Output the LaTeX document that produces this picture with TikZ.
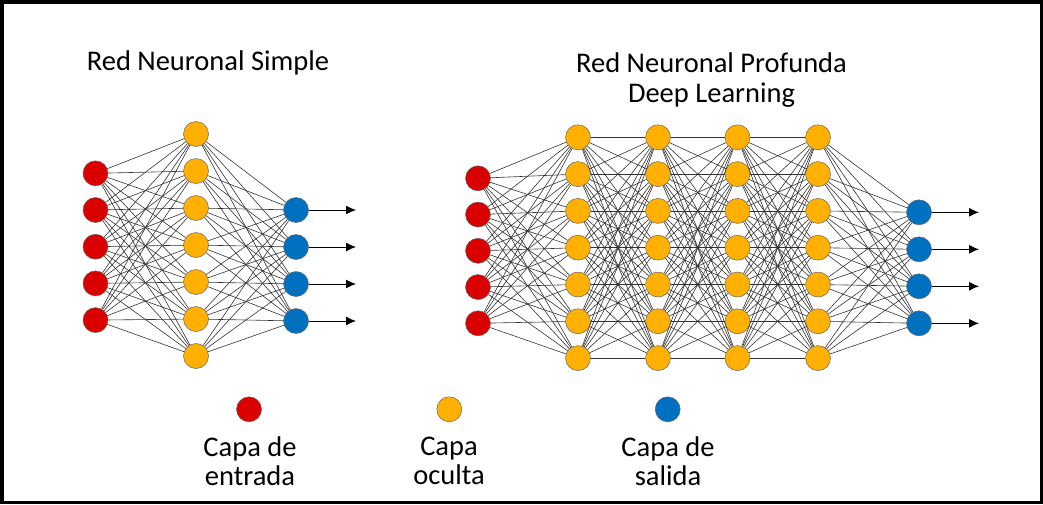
\documentclass[tikz,border=0pt]{standalone}
\usepackage{fontspec}
\setmainfont{Carlito}
\usetikzlibrary{arrows.meta}

\definecolor{capaRoja}{RGB}{218,0,0}
\definecolor{capaNaranja}{RGB}{255,176,0}
\definecolor{capaAzul}{RGB}{0,112,192}

\tikzset{
  neurona/.style={circle, draw=black!60, line width=0.5pt, minimum size=25pt, inner sep=0pt},
  entrada/.style={neurona, fill=capaRoja},
  oculta/.style={neurona, fill=capaNaranja},
  salida/.style={neurona, fill=capaAzul},
  enlace/.style={draw=black!80, line width=0.6pt},
  flecha/.style={-{Latex[length=10pt,width=9pt]}, line width=1pt},
  texto/.style={font=\fontsize{28.5}{29.5}\selectfont, align=center, inner sep=0pt},
}

\begin{document}
\begin{tikzpicture}[x=1pt,y=-1pt]
\useasboundingbox (0,0) rectangle (1043,504);
%marco
\draw [line width=3.5pt] (1.75,1.75) rectangle (1041.25,502.25);

% Red simple
\foreach \i in {0,...,4}
  \node [entrada] (s-in-\i) at (95.5,173.3+36.7*\i) {};
\foreach \j in {0,...,6}
  \node [oculta] (s-hid-\j) at (196,134+37*\j) {};
\foreach \k in {0,...,3} {
  \node [salida] (s-out-\k) at (296,210+37*\k) {};
  \coordinate (s-fin-\k) at (356,210+37*\k);
}
\foreach \i in {0,...,4}
  \foreach \j in {0,...,6}
    \draw [enlace] (s-in-\i) -- (s-hid-\j);
\foreach \j in {0,...,6}
  \foreach \k in {0,...,3}
    \draw [enlace] (s-hid-\j) -- (s-out-\k);
\foreach \k in {0,...,3}
  \draw [flecha] (s-out-\k) -- (s-fin-\k);

% Red profunda
\foreach \i in {0,...,4}
  \node [entrada] (d-in-\i) at (478,178.3+36.25*\i) {};
\foreach \c/\x in {1/578,2/658,3/737.5,4/818}
  \foreach \j in {0,...,6}
    \node [oculta] (d-h\c-\j) at (\x,137.3+36.8*\j) {};
\foreach \k in {0,...,3} {
  \node [salida] (d-out-\k) at (919,212.3+37*\k) {};
  \coordinate (d-fin-\k) at (979,212.3+37*\k);
}
\foreach \i in {0,...,4}
  \foreach \j in {0,...,6}
    \draw [enlace] (d-in-\i) -- (d-h1-\j);
\foreach \c [evaluate=\c as \n using int(\c+1)] in {1,2,3}
  \foreach \j in {0,...,6}
    \foreach \m in {0,...,6}
      \draw [enlace] (d-h\c-\j) -- (d-h\n-\m);
\foreach \j in {0,...,6}
  \foreach \k in {0,...,3}
    \draw [enlace] (d-h4-\j) -- (d-out-\k);
\foreach \k in {0,...,3}
  \draw [flecha] (d-out-\k) -- (d-fin-\k);

% Titulos
\node [texto] (titulo-simple) at (208,63) {Red Neuronal Simple};
\node [texto] (titulo-profunda) at (711.5,80) {Red Neuronal Profunda\\Deep Learning};

% Leyenda
\node [entrada] (ley-entrada) at (249,409.3) {};
\node [oculta] (ley-oculta) at (449.3,409.3) {};
\node [salida] (ley-salida) at (667.7,409.3) {};
\node [texto] (txt-entrada) at (250,461) {Capa de\\entrada};
\node [texto] (txt-oculta) at (449,461) {Capa\\oculta};
\node [texto] (txt-salida) at (668,461) {Capa de\\salida};

\end{tikzpicture}
\end{document}
